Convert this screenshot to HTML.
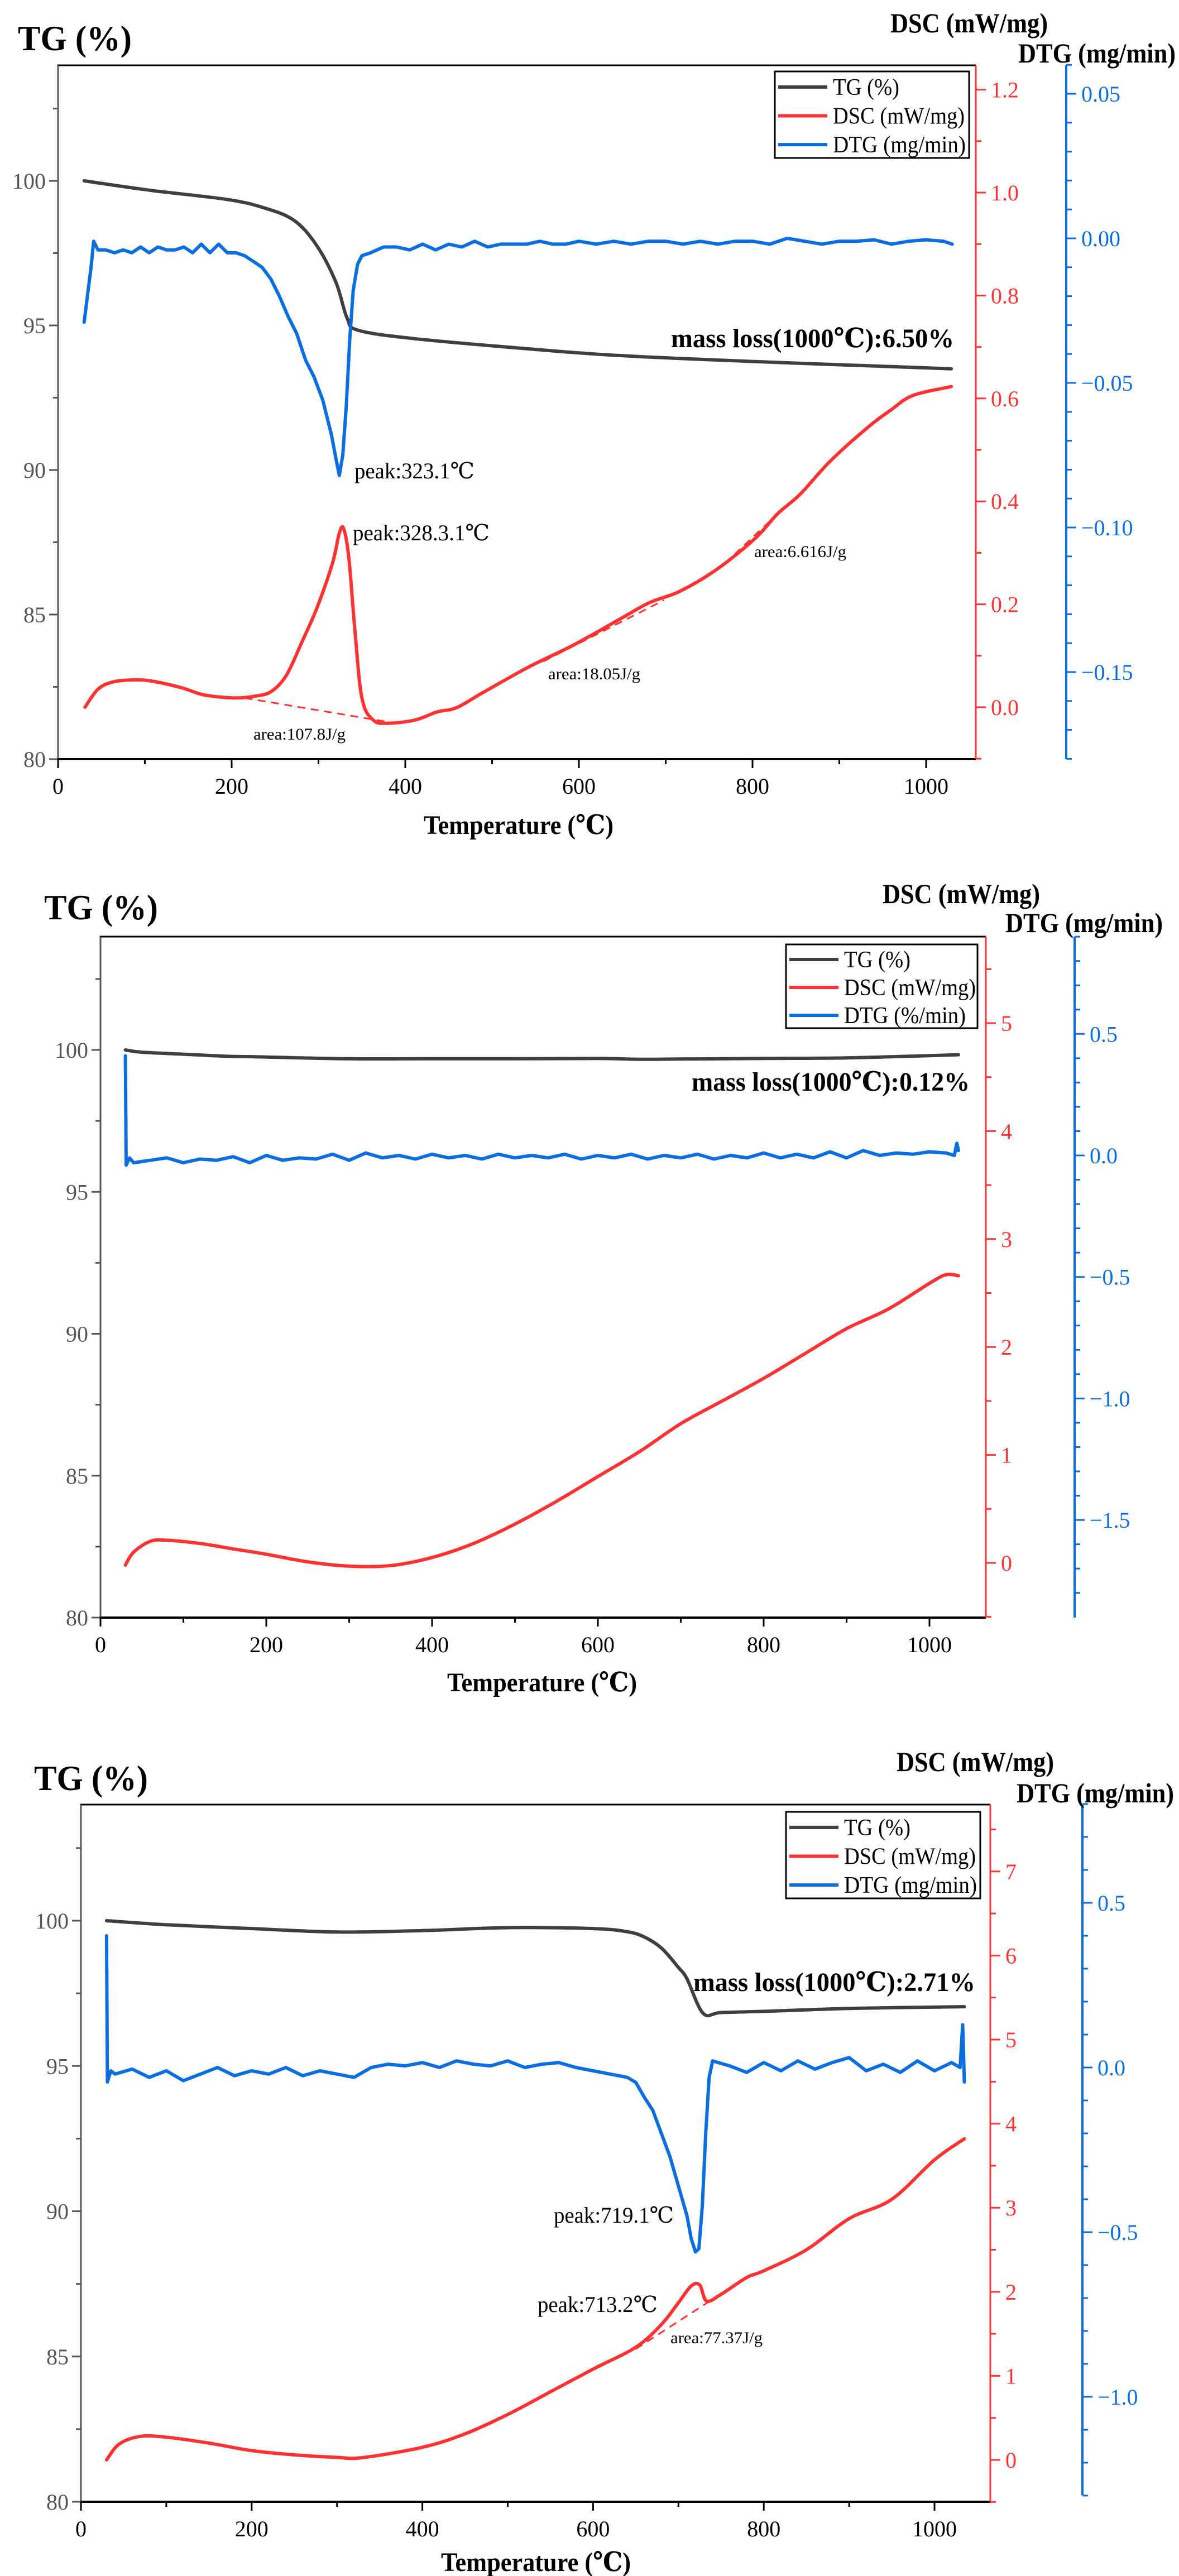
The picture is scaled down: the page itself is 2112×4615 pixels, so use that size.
<!DOCTYPE html>
<html><head><meta charset="utf-8">
<style>
html,body{margin:0;padding:0;background:#fff;}
svg{display:block;}
text{font-family:"Liberation Serif","DejaVu Serif",serif;}
</style></head>
<body>
<svg id="root" width="2112" height="4615" viewBox="0 0 2112 4615" xmlns="http://www.w3.org/2000/svg"></svg>
<script>
// ---------- Chart 1 data ----------
const c1TempTG = [30,107,194,237,272,298,320,333,346,411,542,646,803,1029];
const c1TG = [100,99.67,99.36,99.07,98.63,97.76,96.5,95.25,94.83,94.54,94.19,93.96,93.75,93.5];
const c1TempDSC = [31,46,63,85,107,142,168,203,229,246,263,281,298,316,324,329,335,342,350,363,381,411,437,459,490,542,594,646,681,716,759,803,829,855,890,933,959,985,1029];
const c1DSC = [0.0,0.035,0.049,0.053,0.051,0.038,0.024,0.018,0.022,0.031,0.062,0.127,0.192,0.279,0.338,0.347,0.29,0.149,0.018,-0.025,-0.031,-0.025,-0.009,-0.001,0.029,0.078,0.121,0.170,0.203,0.225,0.268,0.328,0.376,0.414,0.479,0.544,0.577,0.606,0.623];
const c1TempDTG = [30,38,41,46,55,65,75,85,95,105,115,125,135,145,155,165,175,185,195,205,215,225,235,245,255,265,275,285,295,305,315,320,324,328,332,336,340,345,350,360,375,390,405,420,435,450,465,480,495,510,525,540,555,570,585,600,620,640,660,680,700,720,740,760,780,800,820,840,860,880,900,920,940,960,980,1000,1020,1030];
const c1DTG = [-0.029,-0.01,-0.001,-0.004,-0.004,-0.005,-0.004,-0.005,-0.003,-0.005,-0.003,-0.004,-0.004,-0.003,-0.005,-0.002,-0.005,-0.002,-0.005,-0.005,-0.006,-0.008,-0.010,-0.014,-0.020,-0.027,-0.033,-0.042,-0.048,-0.056,-0.068,-0.076,-0.082,-0.075,-0.058,-0.035,-0.018,-0.009,-0.006,-0.005,-0.003,-0.003,-0.004,-0.002,-0.004,-0.002,-0.003,-0.001,-0.003,-0.002,-0.002,-0.002,-0.001,-0.002,-0.002,-0.001,-0.002,-0.001,-0.002,-0.001,-0.001,-0.002,-0.001,-0.002,-0.001,-0.001,-0.002,0,-0.001,-0.002,-0.001,-0.001,-0.0005,-0.002,-0.001,-0.0005,-0.001,-0.002];
const c1BaseT = [[215,385],[559,698],[768,846]];
const c1BaseV = [[0.018,-0.03],[0.089,0.208],[0.279,0.403]];

// ---------- Chart 2 data ----------
const c2TempTG = [30,50,100,150,200,300,400,500,600,650,700,800,900,1000,1035];
const c2TG = [100,99.92,99.85,99.78,99.75,99.69,99.69,99.69,99.70,99.67,99.68,99.70,99.72,99.80,99.83];
const c2TempDSC = [30,40,60,80,120,160,200,250,300,350,400,450,500,550,600,650,700,750,800,850,900,950,1000,1020,1035];
const c2DSC = [-0.02,0.1,0.2,0.21,0.18,0.13,0.08,0.01,-0.03,-0.025,0.05,0.18,0.36,0.57,0.80,1.03,1.29,1.5,1.71,1.94,2.17,2.35,2.59,2.67,2.66];
const c2TempDTG = [30,31,35,40,60,80,100,120,140,160,180,200,220,240,260,280,300,320,340,360,380,400,420,440,460,480,500,520,540,560,580,600,620,640,660,680,700,720,740,760,780,800,820,840,860,880,900,920,940,960,980,1000,1020,1030,1033,1035];
const c2DTG = [0.41,-0.04,-0.01,-0.03,-0.02,-0.01,-0.03,-0.015,-0.02,-0.005,-0.03,0.0,-0.02,-0.01,-0.015,0.005,-0.02,0.01,-0.01,0.0,-0.015,0.005,-0.01,0.0,-0.015,0.005,-0.01,0.0,-0.01,0.005,-0.015,0.0,-0.01,0.005,-0.015,0.0,-0.01,0.005,-0.015,0.0,-0.01,0.01,-0.01,0.005,-0.01,0.015,-0.01,0.02,0.0,0.01,0.005,0.015,0.01,0.0,0.05,0.02];

// ---------- Chart 3 data ----------
const c3TempTG = [30,100,200,300,400,500,600,640,660,680,700,710,729,750,800,900,1035];
const c3TG = [100,99.86,99.73,99.61,99.66,99.76,99.73,99.62,99.44,99.06,98.39,98.0,96.81,96.84,96.88,96.98,97.04];
const c3TempDSC = [30,45,70,100,150,200,250,300,330,400,450,500,550,600,650,680,700,715,725,733,750,780,800,850,900,950,1000,1035];
const c3DSC = [0,0.19,0.28,0.27,0.2,0.11,0.06,0.03,0.027,0.15,0.31,0.54,0.81,1.08,1.34,1.61,1.87,2.07,2.08,1.89,1.97,2.17,2.25,2.5,2.87,3.1,3.57,3.82];
const c3TempDTG = [30,31,35,40,60,80,100,120,140,160,180,200,220,240,260,280,300,320,340,360,380,400,420,440,460,480,500,520,540,560,580,600,620,640,650,660,670,680,690,700,710,715,720,724,728,732,736,740,760,780,800,820,840,860,880,900,920,940,960,980,1000,1020,1030,1033,1035];
const c3DTG = [0.40,-0.044,-0.01,-0.02,-0.005,-0.03,-0.01,-0.04,-0.02,0.0,-0.025,-0.01,-0.02,0.0,-0.025,-0.01,-0.02,-0.03,0.0,0.01,0.005,0.015,0.0,0.02,0.01,0.005,0.02,0.0,0.01,0.015,0.0,-0.01,-0.02,-0.03,-0.045,-0.09,-0.13,-0.2,-0.27,-0.36,-0.45,-0.52,-0.56,-0.55,-0.42,-0.2,-0.03,0.02,0.005,-0.015,0.015,-0.01,0.02,-0.005,0.015,0.03,-0.01,0.01,-0.015,0.02,-0.01,0.015,0.0,0.13,-0.044];
const c3BaseT = [[650,740]];
const c3BaseV = [[1.32,1.91]];

const tgTicks = [80,85,90,95,100];
const xTicks = [0,200,400,600,800,1000];

const NS = "http://www.w3.org/2000/svg";
const root = document.getElementById('root');
function mk(tag, attrs, parent){
  const e = document.createElementNS(NS, tag);
  for (const k in attrs) e.setAttribute(k, attrs[k]);
  (parent||root).appendChild(e);
  return e;
}
function txt(s, x, y, size, opts, parent, name){
  const t = mk('text', {x:x, y:y, 'font-size':size, fill:(opts.fill||'#000'), 'text-anchor':(opts.anchor||'start'), 'font-weight':(opts.bold?'bold':'normal')}, parent);
  if (opts.len) { t.setAttribute('textLength', opts.len); t.setAttribute('lengthAdjust','spacingAndGlyphs'); }
  t.textContent = s;
  
  
  return t;
}
function smoothPath(pts){
  let d = 'M' + pts[0][0].toFixed(1) + ',' + pts[0][1].toFixed(1);
  for (let i=0;i<pts.length-1;i++){
    const p0 = pts[i-1]||pts[i], p1 = pts[i], p2 = pts[i+1], p3 = pts[i+2]||p2;
    const c1x = p1[0]+(p2[0]-p0[0])/6, c1y = p1[1]+(p2[1]-p0[1])/6;
    const c2x = p2[0]-(p3[0]-p1[0])/6, c2y = p2[1]-(p3[1]-p1[1])/6;
    d += ' C'+c1x.toFixed(1)+','+c1y.toFixed(1)+' '+c2x.toFixed(1)+','+c2y.toFixed(1)+' '+p2[0].toFixed(1)+','+p2[1].toFixed(1);
  }
  return d;
}
function linePath(pts){
  return 'M' + pts.map(p=>p[0].toFixed(1)+','+p[1].toFixed(1)).join(' L');
}
function fmt(v, dec){
  const s = Math.abs(v).toFixed(dec);
  return (v < -1e-9 ? '\u2212' : '') + s;
}

function drawChart(c){
  const g = mk('g', {});
  
  
  const X = T => c.L + T*c.xs;
  const YT = v => c.tg100 + (100-v)*c.tgs;
  const YD = v => c.dsc0 - v*c.dscs;
  const YG = v => c.dtg0 - v*c.dtgs;
  const RED='#ff3333', BLUE='#0a6ee0', GRAY='#3f3f3f';

  const fr = mk('path', {d:`M${c.L},${c.B} L${c.L},${c.T} L${c.R},${c.T}`, fill:'none', stroke:'#000', 'stroke-width':3}, g);
  
  
  const lax = mk('line', {x1:c.L, y1:c.T, x2:c.L, y2:c.B, stroke:'#555', 'stroke-width':3}, g);
  
  
  const xax = mk('line', {x1:c.L-2, y1:c.B, x2:c.R, y2:c.B, stroke:'#000', 'stroke-width':4}, g);
  
  
  const rax = mk('line', {x1:c.R, y1:c.T, x2:c.R, y2:c.B, stroke:RED, 'stroke-width':3}, g);
  
  
  const bax = mk('line', {x1:c.BX, y1:c.T, x2:c.BX, y2:c.BB, stroke:BLUE, 'stroke-width':4}, g);
  
  

  for (let v=80; v<=c.tgMax+0.01; v+=2.5){
    const y = YT(v), major = Math.abs(v%5)<0.01;
    const tk = mk('line', {x1:c.L-(major?16:9), y1:y, x2:c.L, y2:y, stroke:'#555', 'stroke-width':3}, g);
    
    
  }
  tgTicks.forEach(v=>{ txt(String(v), c.L-22, YT(v)+14, 40, {anchor:'end', fill:'#555'}, g, 'tg-tick-label'); });
  for (let T=0; T<=1000; T+=100){
    const major = T%200===0;
    const tk = mk('line', {x1:X(T), y1:c.B, x2:X(T), y2:c.B+(major?16:9), stroke:'#000', 'stroke-width':3}, g);
    
    
  }
  xTicks.forEach(T=>{ txt(String(T), X(T), c.B+62, 40, {anchor:'middle'}, g, 'x-tick-label'); });
  txt('Temperature (\u2103)', c.xTitleX, c.B+c.xTitleDy, 48, {anchor:'middle', bold:true, len:340}, g, 'x-axis-title');

  for (let i=Math.ceil(c.dscMin/c.dscMinor); i*c.dscMinor<=c.dscMax+1e-9; i++){
    const v = i*c.dscMinor, y = YD(v);
    if (y < c.T-1 || y > c.B+1) continue;
    const major = Math.abs(v/c.dscMajor - Math.round(v/c.dscMajor))<1e-6;
    const tk = mk('line', {x1:c.R, y1:y, x2:c.R+(major?18:10), y2:y, stroke:RED, 'stroke-width':3}, g);
    
    
    if (major && v>=0 && v<=c.dscLabelMax+1e-9) txt(fmt(v,c.dscDec), c.R+27, y+14, 40, {fill:RED}, g, 'dsc-tick-label');
  }
  for (let i=Math.ceil(c.dtgMin/c.dtgMinor); i*c.dtgMinor<=c.dtgMax+1e-9; i++){
    const v = i*c.dtgMinor, y = YG(v);
    if (y < c.T-1 || y > c.BB+1) continue;
    const major = Math.abs(v/c.dtgMajor - Math.round(v/c.dtgMajor))<1e-6;
    const tk = mk('line', {x1:c.BX, y1:y, x2:c.BX+(major?18:10), y2:y, stroke:BLUE, 'stroke-width':3}, g);
    
    
    if (major && v>=c.dtgLabelMin-1e-9 && v<=c.dtgLabelMax+1e-9) txt(fmt(v,c.dtgDec), c.BX+27, y+14, 40, {fill:BLUE}, g, 'dtg-tick-label');
  }

  txt('TG (%)', c.tgTitle[0], c.tgTitle[1], 64, {bold:true, len:c.tgTitle[2]}, g, 'tg-axis-title');
  txt('DSC (mW/mg)', c.dscTitle[0], c.dscTitle[1], 50, {bold:true, len:282}, g, 'dsc-axis-title');
  txt('DTG (mg/min)', c.dtgTitle[0], c.dtgTitle[1], 50, {bold:true, len:282}, g, 'dtg-axis-title');

  (c.baseT||[]).forEach((bt,i)=>{
    const bv = c.baseV[i];
    const l = mk('line', {x1:X(bt[0]), y1:YD(bv[0]), x2:X(bt[1]), y2:YD(bv[1]), stroke:RED, 'stroke-width':3, 'stroke-dasharray':'14,10'}, g);
    
    
  });

  const tgP = mk('path', {d:smoothPath(c.tgT.map((T,i)=>[X(T),YT(c.tg[i])])), fill:'none', stroke:GRAY, 'stroke-width':6, 'stroke-linejoin':'round', 'stroke-linecap':'round'}, g);
  
  
  const dscP = mk('path', {d:smoothPath(c.dscT.map((T,i)=>[X(T),YD(c.dsc[i])])), fill:'none', stroke:RED, 'stroke-width':6, 'stroke-linejoin':'round', 'stroke-linecap':'round'}, g);
  
  
  const dtgP = mk('path', {d:linePath(c.dtgT.map((T,i)=>[X(T),YG(c.dtg[i])])), fill:'none', stroke:BLUE, 'stroke-width':6, 'stroke-linejoin':'round', 'stroke-linecap':'round'}, g);
  
  

  const lg = c.legend;
  const lgG = mk('g', {}, g);
  
  
  const box = mk('rect', {x:lg[0], y:lg[1], width:lg[2]-lg[0], height:lg[3]-lg[1], fill:'#fff', stroke:'#000', 'stroke-width':3}, lgG);
  
  
  const items = [['TG (%)',GRAY,119],['DSC (mW/mg)',RED,236],[c.dtgLegend,BLUE,c.dtgLegendLen]];
  const step = (lg[3]-lg[1])/3;
  items.forEach((it,i)=>{
    const y = lg[1] + step*(i+0.5) + 2;
    const ln = mk('line', {x1:lg[0]+6, y1:y, x2:lg[0]+94, y2:y, stroke:it[1], 'stroke-width':6}, lgG);
    
    
    txt(it[0], lg[0]+104, y+14, 42, {len:it[2]}, lgG, 'legend-entry');
  });

  c.notes.forEach(n=>{ txt(n[0], n[1], n[2], n[3], {bold:!!n[4], len:n[5]}, g, n[6]); });
}

drawChart({name:'chart-1', L:104, R:1748, T:117, B:1360, xs:1.555,
  tg100:324, tgs:51.8, tgMax:102.5,
  dsc0:1267, dscs:922, dscMin:-0.1, dscMax:1.25, dscMinor:0.1, dscMajor:0.2, dscDec:1, dscLabelMax:1.2,
  BX:1910, BB:1360, dtg0:427, dtgs:5180, dtgMin:-0.18, dtgMax:0.06, dtgMinor:0.01, dtgMajor:0.05, dtgDec:2, dtgLabelMin:-0.15, dtgLabelMax:0.05,
  tgTitle:[32,90,204], dscTitle:[1595,58], dtgTitle:[1824,112],
  xTitleX:929, xTitleDy:134,
  tgT:c1TempTG, tg:c1TG, dscT:c1TempDSC, dsc:c1DSC, dtgT:c1TempDTG, dtg:c1DTG,
  baseT:c1BaseT, baseV:c1BaseV,
  legend:[1388,128,1736,283], dtgLegend:'DTG (mg/min)', dtgLegendLen:238,
  notes:[['mass loss(1000\u2103):6.50%',1202,622,48,true,507,'mass-loss-label'],
         ['peak:323.1\u2103',635,857,40,false,215,'dtg-peak-label'],
         ['peak:328.3.1\u2103',632,968,40,false,245,'dsc-peak-label'],
         ['area:107.8J/g',454,1325,30,false,165,'area-label'],
         ['area:18.05J/g',982,1217,30,false,165,'area-label'],
         ['area:6.616J/g',1351,998,30,false,165,'area-label']]
});

drawChart({name:'chart-2', L:180, R:1766, T:1678, B:2898, xs:1.485,
  tg100:1881, tgs:50.85, tgMax:102.5,
  dsc0:2800, dscs:193.4, dscMin:-0.5, dscMax:5.7, dscMinor:0.5, dscMajor:1, dscDec:0, dscLabelMax:5,
  BX:1925, BB:2898, dtg0:2070, dtgs:435.4, dtgMin:-1.9, dtgMax:0.9, dtgMinor:0.1, dtgMajor:0.5, dtgDec:1, dtgLabelMin:-1.5, dtgLabelMax:0.5,
  tgTitle:[79,1647,204], dscTitle:[1581,1618], dtgTitle:[1801,1670],
  xTitleX:971, xTitleDy:132,
  tgT:c2TempTG, tg:c2TG, dscT:c2TempDSC, dsc:c2DSC, dtgT:c2TempDTG, dtg:c2DTG,
  legend:[1408,1692,1751,1842], dtgLegend:'DTG (%/min)', dtgLegendLen:218,
  notes:[['mass loss(1000\u2103):0.12%',1239,1954,48,true,498,'mass-loss-label']]
});

drawChart({name:'chart-3', L:145, R:1774, T:3233, B:4482, xs:1.529,
  tg100:3441, tgs:52.05, tgMax:102.5,
  dsc0:4407, dscs:150.6, dscMin:-0.5, dscMax:8.4, dscMinor:0.5, dscMajor:1, dscDec:0, dscLabelMax:7,
  BX:1939, BB:4470, dtg0:3704, dtgs:590, dtgMin:-1.3, dtgMax:0.8, dtgMinor:0.1, dtgMajor:0.5, dtgDec:1, dtgLabelMin:-1.0, dtgLabelMax:0.5,
  tgTitle:[61,3207,204], dscTitle:[1606,3173], dtgTitle:[1821,3229],
  xTitleX:960, xTitleDy:124,
  tgT:c3TempTG, tg:c3TG, dscT:c3TempDSC, dsc:c3DSC, dtgT:c3TempDTG, dtg:c3DTG,
  baseT:c3BaseT, baseV:c3BaseV,
  legend:[1408,3246,1756,3401], dtgLegend:'DTG (mg/min)', dtgLegendLen:238,
  notes:[['mass loss(1000\u2103):2.71%',1242,3567,48,true,505,'mass-loss-label'],
         ['peak:719.1\u2103',992,3982,40,false,215,'dtg-peak-label'],
         ['peak:713.2\u2103',963,4142,40,false,215,'dsc-peak-label'],
         ['area:77.37J/g',1201,4198,30,false,165,'area-label']]
});
</script>
</body></html>
